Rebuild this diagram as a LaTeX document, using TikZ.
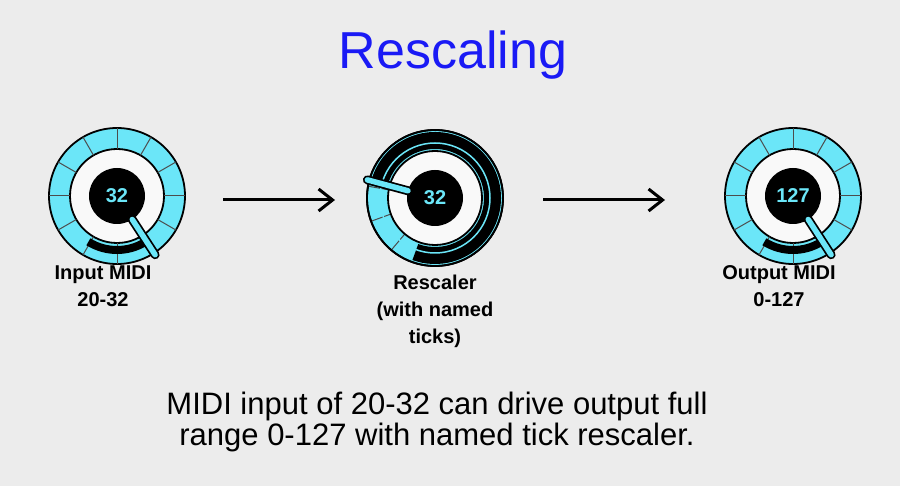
\documentclass[tikz,border=0pt]{standalone}
\usepackage{fontspec}
\setmainfont{Liberation Sans}
\usetikzlibrary{positioning, arrows.meta}
\definecolor{knobcyan}{HTML}{6BE6F8}
\definecolor{bggray}{HTML}{ECECEC}
\definecolor{titleblue}{HTML}{1A1AF5}

% one knob: ring, ticks, value band, display, pointer
\newcommand{\midiknob}[4]{% name, centre, pointer angle, display text
  \begin{scope}[shift={#2}]
    \fill[knobcyan, draw=black, line width=1.8pt] (0,0) circle (68);
    \fill[white!95!gray, draw=black, line width=1.8pt] (0,0) circle (47);
    \foreach \a in {0,30,...,330} \draw[black!70, line width=1pt] (\a:47) -- (\a:68);
    \draw[black, line width=8pt] (58:54) arc (58:122:54);
    \node[circle, fill=black, minimum size=56, inner sep=0] (#1) at (0,0)
      {\fontsize{20}{20}\selectfont\bfseries\color{knobcyan}#4};
    \draw[black, line width=9pt, line cap=round] (#3:20) -- (#3:70);
    \draw[knobcyan, line width=5.5pt, line cap=round] (#3:28) -- (#3:70);
  \end{scope}}

\begin{document}
\begin{tikzpicture}[x=1pt, y=-1pt,
  knoblabel/.style={font=\fontsize{20}{27}\selectfont\bfseries, align=center, inner sep=0},
  flow/.style={-{Straight Barb[length=14pt, width=22pt]}, line width=3pt}]
\fill[bggray] (0,0) rectangle (900,486);
\useasboundingbox (0,0) rectangle (900,486);

\node[titleblue, font=\fontsize{52}{52}\selectfont] (title) at (453,55) {Rescaling};

\midiknob{inknob}{(117,196)}{57}{32}
% rescaler knob with dark band
\begin{scope}[shift={(435,198)}]
  \fill[knobcyan, draw=black, line width=1.8pt] (0,0) circle (68);
  \fill[black] (195:66) arc (195:470:66) -- (470:49) arc (470:195:49) -- cycle;
  \foreach \a in {190,160,130} \draw[black!70, line width=1pt] (\a:47) -- (\a:68);
  \draw[black, line width=1.8pt] (0,0) circle (68);
  \fill[white!95!gray, draw=black, line width=1.8pt] (0,0) circle (47);
  \draw[knobcyan, line width=1.5pt] (0,0) circle (55);
  \node[circle, fill=black, minimum size=56, inner sep=0] (scaleknob) at (0,0)
    {\fontsize{20}{20}\selectfont\bfseries\color{knobcyan}32};
  \draw[black, line width=9pt, line cap=round] (195:20) -- (195:70);
  \draw[knobcyan, line width=5.5pt, line cap=round] (195:28) -- (195:70);
\end{scope}
\midiknob{outknob}{(793,196)}{57}{127}

\node[knoblabel] (inlabel) at (103,286) {Input MIDI\\20-32};
\node[knoblabel] (scalelabel) at (435,311) {Rescaler\\(with named\\ticks)};
\node[knoblabel] (outlabel) at (779,286) {Output MIDI\\0-127};

\coordinate (a1s) at (223,200); \coordinate (a1e) at (335,200);
\coordinate (a2s) at (543,200); \coordinate (a2e) at (665,200);
\draw[flow] (a1s) -- (a1e);
\draw[flow] (a2s) -- (a2e);

\node[font=\fontsize{31}{31}\selectfont, align=center] (caption) at (437,422)
  {MIDI input of 20-32 can drive output full\\range 0-127 with named tick rescaler.};
\end{tikzpicture}
\end{document}
